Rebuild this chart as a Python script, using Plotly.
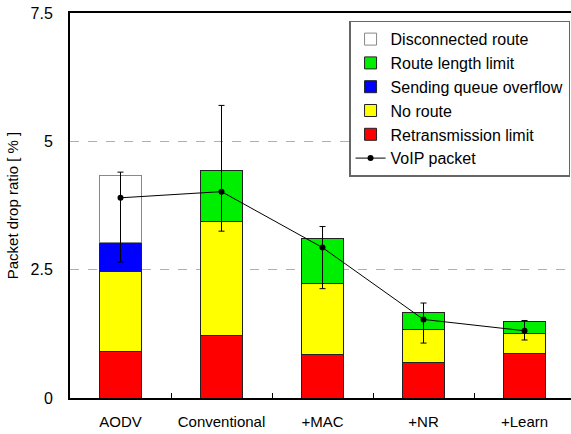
import plotly.graph_objects as go

categories = ["AODV", "Conventional", "+MAC", "+NR", "+Learn"]
retransmission_limit = [0.90, 1.22, 0.85, 0.69, 0.86]
no_route = [1.56, 2.21, 1.38, 0.65, 0.39]
sending_queue_overflow = [0.575, None, None, None, None]
route_length_limit = [None, 1.01, 0.88, 0.33, 0.25]
disconnected_route = [1.29, None, None, None, None]
voip_packet = [3.90, 4.02, 2.93, 1.53, 1.31]
voip_err_plus = [0.50, 1.68, 0.41, 0.32, 0.20]
voip_err_minus = [1.25, 0.77, 0.80, 0.46, 0.18]
y_ticks = [0, 2.5, 5, 7.5]
y_tick_labels = ["0", "2.5", "5", "7.5"]

FONT = "Liberation Sans, Arial, sans-serif"

fig = go.Figure()
bar_specs = [
    ("Retransmission limit", retransmission_limit, "#ff0000", "#222222", 5),
    ("No route", no_route, "#ffff00", "#222222", 4),
    ("Sending queue overflow", sending_queue_overflow, "#0000ff", "#222222", 3),
    ("Route length limit", route_length_limit, "#00ee00", "#222222", 2),
    ("Disconnected route", disconnected_route, "#ffffff", "#888888", 1),
]
for name, vals, color, lc, rank in bar_specs:
    fig.add_trace(go.Bar(
        x=categories, y=vals, name=name, width=0.41,
        marker=dict(color=color, line=dict(color=lc, width=1)),
        legendrank=rank,
    ))

fig.add_trace(go.Scatter(
    x=categories, y=voip_packet, name="VoIP packet", mode="lines+markers",
    line=dict(color="black", width=1),
    marker=dict(color="black", size=6),
    error_y=dict(type="data", symmetric=False, array=voip_err_plus,
                 arrayminus=voip_err_minus, color="black", thickness=1, width=3),
    legendrank=6,
))

fig.update_layout(
    width=571, height=434,
    margin=dict(l=70, r=0, t=13, b=36),
    barmode="stack",
    plot_bgcolor="white", paper_bgcolor="white",
    font=dict(family=FONT, size=15, color="black"),
    showlegend=True,
    legend=dict(
        x=0.557, y=0.98, xanchor="left", yanchor="top",
        traceorder="normal",
        bgcolor="white", bordercolor="#666666", borderwidth=1.5,
        font=dict(family=FONT, size=16, color="black"),
        itemwidth=30,
    ),
    xaxis=dict(
        type="category", range=[-0.5, 4.46], automargin=False,
        showline=True, linecolor="black", linewidth=2, mirror=True,
        ticks="inside", tickson="boundaries", ticklen=5, tickcolor="black",
        showgrid=False, ticklabelstandoff=9,
        tickfont=dict(size=15),
    ),
    yaxis=dict(
        range=[0, 7.5], tickvals=y_ticks, ticktext=y_tick_labels, automargin=False,
        showline=True, linecolor="black", linewidth=2, mirror=False,
        ticks="", showgrid=True, gridcolor="#b0b0b0", griddash="dash", gridwidth=1,
        zeroline=False, ticklabelstandoff=12,
        tickfont=dict(size=16),
        title=dict(text="Packet drop ratio [ % ]", font=dict(size=15), standoff=8),
    ),
)

fig.write_html("out.html", config={"displayModeBar": False},
               post_script="document.body.style.margin='0';document.body.style.overflow='hidden';")
